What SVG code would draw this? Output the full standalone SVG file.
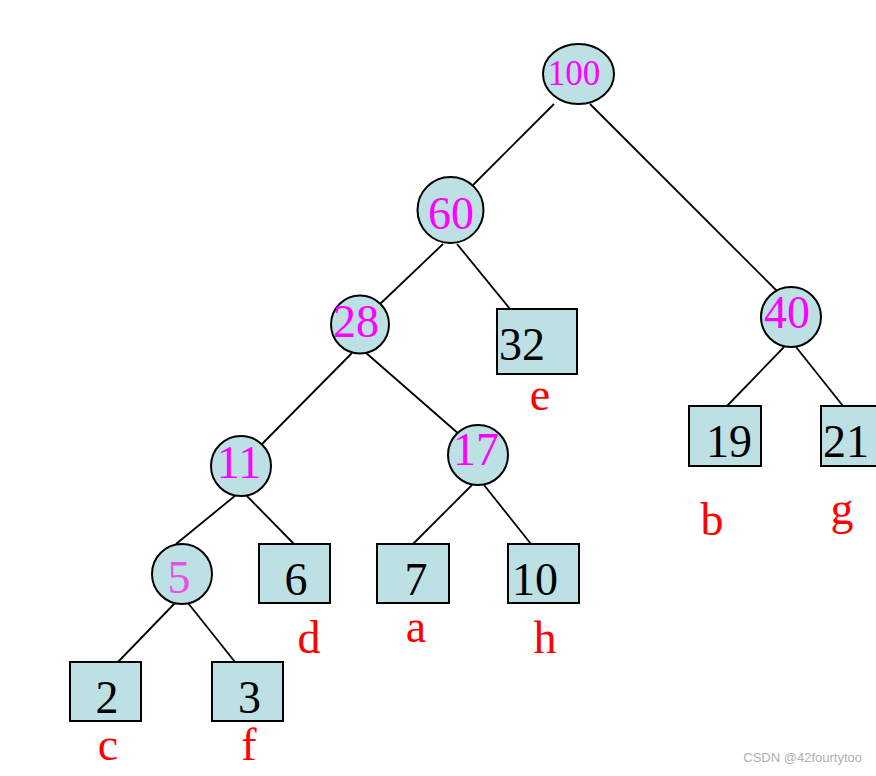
<svg xmlns="http://www.w3.org/2000/svg" width="876" height="776" viewBox="0 0 876 776">
<style>
.n{fill:#bce0e3;stroke:#000;stroke-width:2}
.c line{stroke:#000;stroke-width:1.8}
.w{font-family:"Liberation Serif","Times New Roman",serif;font-size:46px;fill:#ff00ff;text-anchor:middle}
.v{font-family:"Liberation Serif","Times New Roman",serif;font-size:46px;fill:#000}
.l{font-family:"Liberation Serif","Times New Roman",serif;font-size:46px;fill:#ff0000;text-anchor:middle}
</style>
<rect width="876" height="776" fill="#fff"/>
<g class="c" id="connectors">
<line x1="554" y1="104" x2="473" y2="185"/>
<line x1="590" y1="104" x2="779" y2="293"/>
<line x1="443" y1="244" x2="379" y2="305"/>
<line x1="457" y1="244" x2="510" y2="309"/>
<line x1="352" y1="353" x2="262" y2="444"/>
<line x1="365" y1="352" x2="460" y2="435"/>
<line x1="472" y1="485" x2="413" y2="544"/>
<line x1="484" y1="485" x2="531" y2="544"/>
<line x1="236" y1="495" x2="176" y2="544"/>
<line x1="246" y1="495" x2="294" y2="544"/>
<line x1="175" y1="603" x2="118" y2="662"/>
<line x1="188" y1="603" x2="235" y2="662"/>
<line x1="784" y1="347" x2="727" y2="406"/>
<line x1="796" y1="347" x2="843" y2="406"/>
</g>
<g id="n100"><ellipse class="n" cx="578.5" cy="74" rx="35.5" ry="30"/><text class="w" x="574" y="85" style="font-size:35px">100</text></g>
<g id="n60"><circle class="n" cx="450.5" cy="210" r="33"/><text class="w" x="451" y="229">60</text></g>
<g id="n28"><circle class="n" cx="360" cy="324.5" r="29"/><text class="w" x="356" y="337">28</text></g>
<g id="n40"><circle class="n" cx="791" cy="317" r="30"/><text class="w" x="787" y="328">40</text></g>
<g id="n17"><circle class="n" cx="478" cy="455" r="30"/><text class="w" x="476" y="465">17</text></g>
<g id="n11"><circle class="n" cx="241" cy="466" r="30"/><text class="w" x="239" y="478">11</text></g>
<g id="n5"><circle class="n" cx="182" cy="574" r="30"/><text class="w" x="179" y="593" style="fill:#e650e6">5</text></g>
<g id="n32"><rect class="n" x="497" y="309" width="80" height="65"/><text class="v" x="499" y="360">32</text><text class="l" x="540" y="410">e</text></g>
<g id="n19"><rect class="n" x="689" y="406" width="72" height="60"/><text class="v" x="706" y="457">19</text><text class="l" x="712" y="535">b</text></g>
<g id="n21"><rect class="n" x="821" y="406" width="72" height="60"/><text class="v" x="823" y="457">21</text><text class="l" x="842" y="524">g</text></g>
<g id="n7"><rect class="n" x="377" y="544" width="72" height="59"/><text class="v" x="416" y="595" text-anchor="middle">7</text><text class="l" x="416" y="642">a</text></g>
<g id="n10"><rect class="n" x="508" y="544" width="71" height="59"/><text class="v" x="512" y="595">10</text><text class="l" x="545" y="653">h</text></g>
<g id="n6"><rect class="n" x="259" y="544" width="71" height="59"/><text class="v" x="296" y="595" text-anchor="middle">6</text><text class="l" x="309" y="653">d</text></g>
<g id="n3"><rect class="n" x="212" y="662" width="71" height="59"/><text class="v" x="249.5" y="713" text-anchor="middle">3</text><text class="l" x="249" y="760">f</text></g>
<g id="n2"><rect class="n" x="70" y="662" width="71" height="59"/><text class="v" x="107" y="713" text-anchor="middle">2</text><text class="l" x="108" y="760">c</text></g>
<text x="862" y="762" text-anchor="end" style="font-family:'Liberation Sans',Arial,sans-serif;font-size:13px;fill:#b0b0b0">CSDN @42fourtytoo</text>
</svg>
